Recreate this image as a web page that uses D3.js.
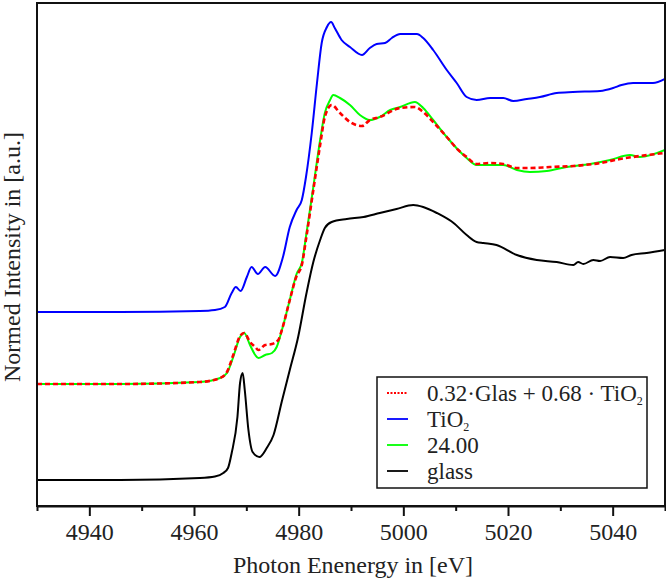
<!DOCTYPE html>
<html>
<head>
<meta charset="utf-8">
<script src="https://cdn.jsdelivr.net/npm/d3@7"></script>
<style>
  html, body { margin: 0; padding: 0; background: #fff; }
  svg { display: block; }
  svg text { font-family: "Liberation Serif", "Times New Roman", serif !important; fill: #222; }
</style>
</head>
<body>
<svg id="chart" width="666" height="583"></svg>
<script>
// ---- data (Photon energy in eV, normed intensity in a.u.) ----
const tio2E = [4930, 4945.9, 4961.1, 4964.0, 4965.9, 4967.2, 4968.0, 4968.9, 4970.1, 4971.0, 4972.2, 4973.6, 4975.5, 4977.0, 4978.3, 4979.6, 4980.6, 4981.4, 4982.5, 4983.5, 4984.4, 4985.4, 4986.2, 4986.9, 4988.2, 4989.8, 4992.1, 4993.6, 4994.9, 4996.5, 4997.8, 4999.4, 5002.6, 5003.8, 5005.7, 5008.3, 5010.2, 5012.1, 5014.0, 5016.6, 5019.1, 5021.0, 5023.6, 5026.1, 5029.3, 5032.4, 5037.6, 5040.1, 5041.7, 5043.9, 5047.7, 5050.0];
const tio2I = [1.68, 1.68, 1.69, 1.70, 1.73, 1.87, 1.93, 1.89, 2.03, 2.13, 2.06, 2.13, 2.04, 2.23, 2.53, 2.70, 2.80, 3.03, 3.47, 3.97, 4.37, 4.53, 4.58, 4.52, 4.40, 4.33, 4.25, 4.32, 4.36, 4.37, 4.42, 4.46, 4.46, 4.42, 4.30, 4.10, 3.97, 3.83, 3.80, 3.82, 3.82, 3.79, 3.81, 3.83, 3.87, 3.88, 3.89, 3.92, 3.95, 3.97, 3.97, 4.01];

const sampleE = [4930, 4945.9, 4961.1, 4965.0, 4966.3, 4967.5, 4968.8, 4969.6, 4970.7, 4971.7, 4972.3, 4973.6, 4974.9, 4975.8, 4976.8, 4978.3, 4979.6, 4980.6, 4981.5, 4982.8, 4984.1, 4985.0, 4986.0, 4986.6, 4987.9, 4989.8, 4991.7, 4993.6, 4995.5, 4997.5, 4999.4, 5002.2, 5003.8, 5005.7, 5008.3, 5010.5, 5012.1, 5014.0, 5016.6, 5019.1, 5021.7, 5024.2, 5027.4, 5031.2, 5035.7, 5039.5, 5043.3, 5045.2, 5050.0];
const sampleI = [0.96, 0.96, 0.98, 1.02, 1.07, 1.23, 1.43, 1.47, 1.35, 1.25, 1.22, 1.25, 1.27, 1.33, 1.50, 1.80, 2.06, 2.17, 2.47, 2.93, 3.40, 3.67, 3.80, 3.85, 3.82, 3.75, 3.65, 3.60, 3.63, 3.70, 3.73, 3.78, 3.72, 3.60, 3.43, 3.30, 3.22, 3.15, 3.15, 3.15, 3.10, 3.08, 3.09, 3.13, 3.16, 3.20, 3.25, 3.23, 3.30];

const fitE = [4930, 4945.9, 4961.1, 4965.0, 4966.3, 4967.5, 4968.8, 4969.6, 4970.7, 4971.7, 4972.3, 4973.6, 4974.9, 4976.1, 4976.9, 4978.3, 4979.6, 4980.6, 4981.5, 4982.8, 4984.1, 4985.0, 4986.3, 4987.9, 4989.8, 4992.1, 4993.6, 4995.5, 4999.4, 5002.2, 5003.8, 5005.7, 5008.3, 5010.5, 5012.1, 5014.0, 5016.6, 5019.1, 5021.7, 5024.2, 5028.0, 5032.5, 5037.6, 5041.4, 5045.2, 5050.0];
const fitI = [0.96, 0.96, 0.98, 1.02, 1.08, 1.25, 1.44, 1.47, 1.38, 1.33, 1.30, 1.35, 1.36, 1.40, 1.52, 1.80, 2.04, 2.15, 2.44, 2.90, 3.35, 3.63, 3.75, 3.67, 3.58, 3.54, 3.60, 3.63, 3.72, 3.73, 3.68, 3.58, 3.43, 3.30, 3.23, 3.16, 3.17, 3.16, 3.12, 3.12, 3.13, 3.14, 3.17, 3.21, 3.24, 3.27];

const glassE = [4930, 4945.9, 4961.1, 4964.0, 4965.6, 4966.5, 4967.2, 4968.3, 4968.8, 4969.3, 4969.7, 4970.4, 4971.2, 4972.5, 4973.9, 4975.2, 4976.8, 4978.3, 4979.9, 4981.5, 4982.8, 4984.1, 4985.0, 4986.3, 4989.2, 4992.4, 4995.5, 4998.7, 5001.9, 5003.8, 5006.4, 5009.6, 5012.1, 5014.0, 5015.3, 5017.8, 5021.7, 5025.5, 5029.3, 5032.5, 5033.4, 5034.4, 5036.3, 5037.6, 5039.5, 5042.0, 5043.6, 5046.5, 5050.0];
const glassI = [0.00, 0.00, 0.02, 0.035, 0.07, 0.12, 0.27, 0.63, 0.97, 1.07, 0.90, 0.50, 0.28, 0.23, 0.32, 0.45, 0.79, 1.10, 1.43, 1.87, 2.18, 2.40, 2.52, 2.58, 2.61, 2.63, 2.67, 2.71, 2.75, 2.73, 2.67, 2.57, 2.45, 2.38, 2.37, 2.35, 2.25, 2.20, 2.18, 2.15, 2.18, 2.16, 2.20, 2.19, 2.23, 2.22, 2.25, 2.27, 2.30];

const xMajorTicks = [4940, 4960, 4980, 5000, 5020, 5040];
const xMinorTicks = [4930, 4950, 4970, 4990, 5010, 5030, 5050];

const legendLabels = ["0.32\u00B7Glas + 0.68 \u00B7 TiO", "TiO", "24.00", "glass"];
const legendSubs = ["2", "2", "", ""];

// ---- layout ----
const FONT = "'Liberation Serif', 'Times New Roman', serif";
const svg = d3.select("#chart");
const L = 37, R = 665, T = 3, B = 506;

const x = d3.scaleLinear().domain([4930, 5050]).range([L, R]);
const y = d3.scaleLinear().domain([-0.26, 4.77]).range([B, T]);

svg.append("defs").append("clipPath").attr("id", "clip")
  .append("rect").attr("x", L).attr("y", T).attr("width", R - L).attr("height", B - T);

const line = d3.line()
  .x(d => x(d[0])).y(d => y(d[1]))
  .curve(d3.curveMonotoneX);

const series = [
  { E: glassE, I: glassI, color: "#000000", dash: null, width: 2 },
  { E: tio2E, I: tio2I, color: "#0000ff", dash: null, width: 2 },
  { E: sampleE, I: sampleI, color: "#00ff00", dash: null, width: 2 },
  { E: fitE, I: fitI, color: "#ff0000", dash: "5,3", width: 2.6 }
];

const g = svg.append("g").attr("clip-path", "url(#clip)");
series.forEach(s => {
  g.append("path")
    .datum(s.E.map((e, i) => [e, s.I[i]]))
    .attr("d", line)
    .attr("fill", "none")
    .attr("stroke", s.color)
    .attr("stroke-width", s.width)
    .attr("stroke-dasharray", s.dash)
    .attr("stroke-linejoin", "round");
});

// frame
svg.append("rect")
  .attr("x", L).attr("y", T).attr("width", R - L).attr("height", B - T)
  .attr("fill", "none").attr("stroke", "#111").attr("stroke-width", 2);

// x axis: major + minor ticks
const axMajor = svg.append("g").attr("transform", `translate(0,${B})`)
  .call(d3.axisBottom(x).tickValues(xMajorTicks).tickSize(10).tickSizeOuter(0).tickPadding(7).tickFormat(d3.format("d")));
axMajor.attr("font-family", null).style("font-family", FONT).attr("font-size", 24);
axMajor.select(".domain").attr("stroke", "#111").attr("stroke-width", 2);
axMajor.selectAll(".tick line").attr("stroke", "#111").attr("stroke-width", 2);
axMajor.selectAll(".tick text")
  .style("font-family", FONT)
  .attr("font-size", 24).attr("fill", "#222");

const axMinor = svg.append("g").attr("transform", `translate(0,${B})`)
  .call(d3.axisBottom(x).tickValues(xMinorTicks).tickSize(5).tickSizeOuter(0).tickFormat(""));
axMinor.select(".domain").remove();
axMinor.selectAll(".tick line").attr("stroke", "#111").attr("stroke-width", 2);

// axis titles
svg.append("text")
  .attr("x", (L + R) / 2 + 2).attr("y", 573)
  .attr("text-anchor", "middle")
  .style("font-family", FONT)
  .attr("font-size", 24)
  .text("Photon Enenergy in [eV]");

svg.append("text")
  .attr("transform", "translate(20,257) rotate(-90)")
  .attr("text-anchor", "middle")
  .style("font-family", FONT)
  .attr("font-size", 24)
  .text("Normed Intensity in [a.u.]");

// legend
const lg = svg.append("g");
lg.append("rect")
  .attr("x", 377).attr("y", 377).attr("width", 270).attr("height", 111)
  .attr("fill", "#fff").attr("stroke", "#111").attr("stroke-width", 1.5);

const legendSeries = [series[3], series[1], series[2], series[0]];
legendSeries.forEach((s, i) => {
  const yy = 393 + i * 26;
  lg.append("line")
    .attr("x1", 387).attr("x2", 408).attr("y1", yy).attr("y2", yy)
    .attr("stroke", s.color)
    .attr("stroke-width", 1.8)
    .attr("stroke-dasharray", i === 0 ? "2,1.5" : null);
  const t = lg.append("text")
    .attr("x", 427).attr("y", yy + 8)
    .style("font-family", FONT)
    .attr("font-size", 23);
  t.append("tspan").text(legendLabels[i]);
  if (legendSubs[i]) {
    t.append("tspan").attr("font-size", 12).attr("dy", 4).text(legendSubs[i]);
  }
});
</script>
</body>
</html>
